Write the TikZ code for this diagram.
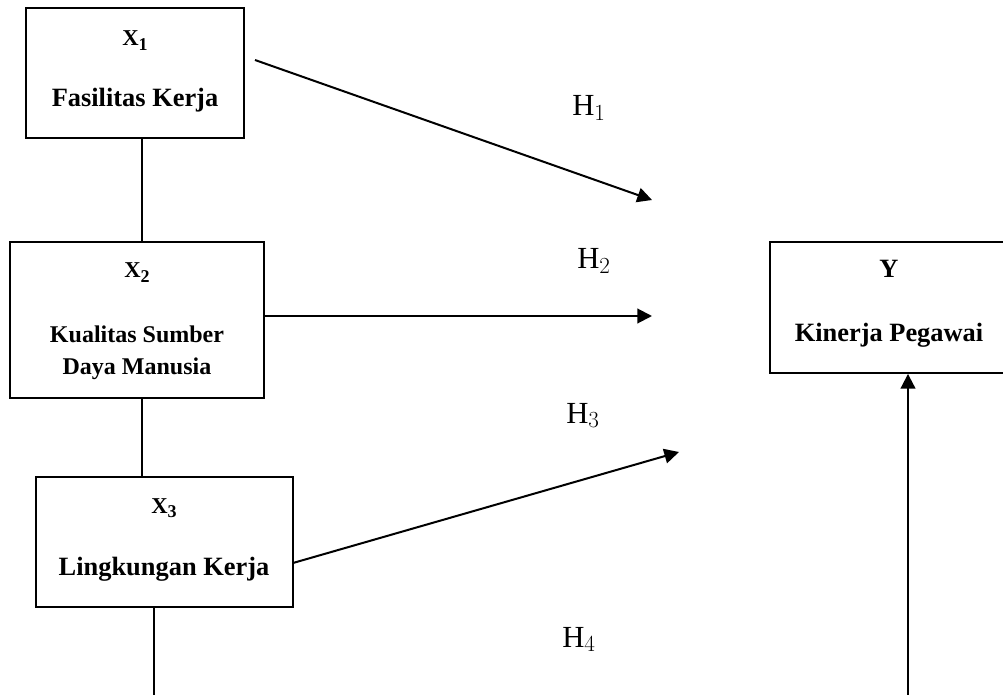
\documentclass[tikz,border=0pt]{standalone}
\usepackage{fontspec}
\setmainfont{Liberation Serif}
\usetikzlibrary{arrows.meta}
\newcommand{\varlab}[1]{{\fontsize{17}{18}\selectfont\bfseries X}\raisebox{-3.5pt}{\fontsize{13.5}{14}\selectfont\bfseries #1}}
\begin{document}
\begin{tikzpicture}[x=0.75pt,y=-0.75pt,
  box/.style={draw,line width=1.4pt,inner sep=0pt,rectangle},
  lbl/.style={anchor=base,inner sep=0pt,font=\fontsize{19.8}{24}\selectfont\bfseries},
  lbls/.style={anchor=base,inner sep=0pt,font=\fontsize{18}{24}\selectfont\bfseries},
  var/.style={anchor=base,inner sep=0pt},
  hyp/.style={anchor=base west,inner sep=0pt,font=\fontsize{23}{26}\selectfont},
  conn/.style={line width=1.4pt},
  arr/.style={line width=1.5pt,-{Triangle[length=11pt,width=11pt]}}
]
\useasboundingbox (0,0) rectangle (1003,695);

% boxes
\node[box,minimum width=163.5pt,minimum height=97.5pt] (X1) at (135,73) {};
\node[box,minimum width=190.5pt,minimum height=117pt] (X2) at (137,320) {};
\node[box,minimum width=192.75pt,minimum height=97.5pt] (X3) at (164.5,542) {};
\node[box,minimum width=178.5pt,minimum height=98.25pt] (Y) at (889,307.5) {};

% box texts
\node[var] (tX1) at (135,46) {\varlab{1}};
\node[lbl] (tF) at (135,107) {Fasilitas Kerja};
\node[var] (tX2) at (137,278) {\varlab{2}};
\node[lbls] (tK) at (137,342) {Kualitas Sumber};
\node[lbls] (tD) at (137,374) {Daya Manusia};
\node[var] (tX3) at (164,513) {\varlab{3}};
\node[lbl] (tL) at (164,575) {Lingkungan Kerja};
\node[lbl] (tY) at (889,278) {Y};
\node[lbl] (tKP) at (889,341) {Kinerja Pegawai};

% hypothesis labels
\node[hyp] (H1) at (572,116) {$\mathrm{H}_1$};
\node[hyp] (H2) at (577,269) {$\mathrm{H}_2$};
\node[hyp] (H3) at (566,423) {$\mathrm{H}_3$};
\node[hyp] (H4) at (562,647) {$\mathrm{H}_4$};

% helper coordinates
\coordinate (c1) at (142,0);
\coordinate (c3) at (154,0);
\coordinate (x3end) at (154,700);
\coordinate (a1s) at (255,60);
\coordinate (a1e) at (652,200);
\coordinate (a2e) at (652,316);
\coordinate (a3s) at (293,563);
\coordinate (a3e) at (679,452);
\coordinate (a4s) at (908,700);
\coordinate (c4) at (908,0);

% vertical links
\draw[conn] (X1.south -| c1) -- (X2.north -| c1);
\draw[conn] (X2.south -| c1) -- (X3.north -| c1);
\draw[conn] (X3.south -| c3) -- (x3end);

% arrows
\draw[arr] (a1s) -- (a1e);
\draw[arr] (X2.east |- a2e) -- (a2e);
\draw[arr] (a3s) -- (a3e);
\draw[arr] (a4s) -- (Y.south -| c4);
\end{tikzpicture}
\end{document}
